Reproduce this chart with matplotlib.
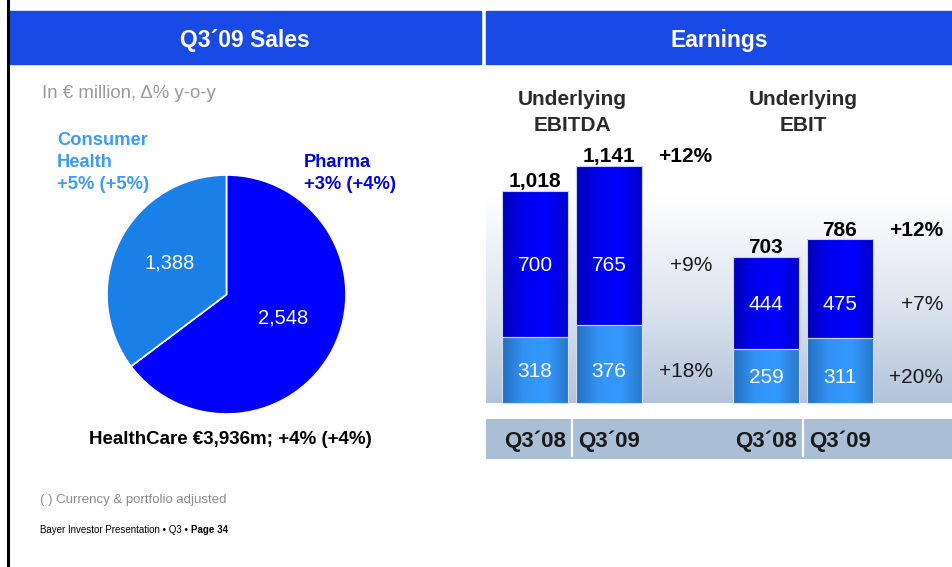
import numpy as np
import matplotlib.pyplot as plt
from matplotlib import transforms
from matplotlib.patches import Rectangle
from matplotlib.lines import Line2D
from matplotlib.colors import LinearSegmentedColormap

plt.rcParams['font.family'] = ['Liberation Sans', 'DejaVu Sans']

# ---- data ----
sales_segments = ['Pharma', 'Consumer\nHealth']
sales_values = [2548, 1388]
sales_labels = ['2,548', '1,388']
sales_growth = ['+3% (+4%)', '+5% (+5%)']
healthcare_note = 'HealthCare \u20ac3,936m; +4% (+4%)'

metrics = ['Underlying\nEBITDA', 'Underlying\nEBIT']
periods = ['Q3\u00b408', 'Q3\u00b409']
consumer_vals = [[318, 376], [259, 311]]
pharma_vals = [[700, 765], [444, 475]]
growth_total = ['+12%', '+12%']
growth_pharma = ['+9%', '+7%']
growth_consumer = ['+18%', '+20%']

W, H = 952, 567
fig = plt.figure(figsize=(W / 100, H / 100), dpi=100)


def box(x0, y0, x1, y1):
    # pixel box, top-left origin -> figure rect
    return [x0 / W, 1 - y1 / H, (x1 - x0) / W, (y1 - y0) / H]


def fy(y):
    return 1 - y / H


# left border and header bars
fig.add_artist(Line2D([7.5 / W] * 2, [0, 1], color='black', lw=2.2, transform=fig.transFigure))
header_blue = '#1a4ae6'
for (x0, x1, title) in [(9, 481, 'Q3\u00b409 Sales'), (486, 952, 'Earnings')]:
    r = box(x0, 11, x1, 64)
    fig.add_artist(Rectangle((r[0], r[1]), r[2], r[3], color=header_blue, transform=fig.transFigure))
    fig.text(r[0] + r[2] / 2, fy(46.5), title, ha='center', va='baseline',
             color='white', fontsize=16.5, fontweight='bold')

fig.text(42 / W, fy(98), 'In \u20ac million, \u0394% y-o-y', fontsize=13.4, color='#999999', va='baseline')

# ---- pie ----
ax_pie = fig.add_axes(box(107, 175, 346, 414))
pie_colors = ['#0000ff', '#1a80e8']
wedges, _ = ax_pie.pie(sales_values, colors=pie_colors, startangle=90, counterclock=False,
                       wedgeprops=dict(edgecolor='white', linewidth=1.2))
ax_pie.set_xlim(-1, 1)
ax_pie.set_ylim(-1, 1)
for w, lab in zip(wedges, sales_labels):
    ang = np.deg2rad((w.theta1 + w.theta2) / 2)
    ax_pie.text(0.53 * np.cos(ang), 0.52 * np.sin(ang) + 0.05, lab, ha='center', va='center_baseline',
                color='white', fontsize=14.5)

# multi-line labels: baseline refers to the last line
fig.text(304 / W, fy(189), sales_segments[0] + '\n' + sales_growth[0], color='#0000e6',
         fontsize=13.2, fontweight='bold', va='baseline', linespacing=1.38)
fig.text(57 / W, fy(189), sales_segments[1] + '\n' + sales_growth[1], color='#3d9bf5',
         fontsize=13.2, fontweight='bold', va='baseline', linespacing=1.38)
fig.text(230 / W, fy(444.3), healthcare_note, ha='center', va='baseline',
         fontsize=13.5, fontweight='bold', color='black')

# ---- earnings bars ----
ax = fig.add_axes(box(486, 80, 952, 459))
ax.set_axis_off()
xlim = (-0.662, 5.635)
ylim = (-270, 1553)
gstart = [0, 3.12]
bw = 0.9

bg = LinearSegmentedColormap.from_list('bg', [(0, '#b2c3da'), (0.45, '#dbe3ee'), (1, '#ffffff')])
ax.imshow(np.linspace(0, 1, 256).reshape(-1, 1), cmap=bg, origin='lower', aspect='auto',
          extent=(xlim[0], xlim[1], 0, 1000), zorder=0)
ax.axhspan(ylim[0], -77, color='#aabed6', zorder=0, lw=0)
ax.vlines([g + 0.5 for g in gstart], -262, -77, colors='white', lw=1.6, zorder=1)

dark = LinearSegmentedColormap.from_list('dk', ['#0000b8', '#0000f0', '#0000ff', '#0000c8'])
light = LinearSegmentedColormap.from_list('lt', ['#2670c0', '#3393f5', '#3399ff', '#2a78c8'])


def shade(patch, cmap):
    x0, y0 = patch.get_x(), patch.get_y()
    im = ax.imshow(np.linspace(0, 1, 64).reshape(1, -1), cmap=cmap, aspect='auto',
                   extent=(x0, x0 + patch.get_width(), y0, y0 + patch.get_height()), zorder=2)
    im.set_clip_path(patch)


blend = transforms.blended_transform_factory(ax.transData, fig.transFigure)
for g in range(2):
    xs = [gstart[g] + i for i in range(2)]
    b1 = ax.bar(xs, consumer_vals[g], width=bw, facecolor='none', edgecolor='#d4def2', lw=0.8, zorder=3)
    b2 = ax.bar(xs, pharma_vals[g], bottom=consumer_vals[g], width=bw, facecolor='none',
                edgecolor='#c8d2f2', lw=0.8, zorder=3)
    for p in b1:
        shade(p, light)
    for p in b2:
        shade(p, dark)

    y_low = consumer_vals[g][0] / 2
    y_up = consumer_vals[g][0] + pharma_vals[g][0] / 2
    for i, x in enumerate(xs):
        ax.text(x, y_low, str(consumer_vals[g][i]), ha='center', va='center_baseline', color='white', fontsize=15, zorder=4)
        ax.text(x, y_up, str(pharma_vals[g][i]), ha='center', va='center_baseline', color='white', fontsize=15, zorder=4)
        tot = consumer_vals[g][i] + pharma_vals[g][i]
        ax.annotate(f'{tot:,}', (x, tot), xytext=(0, 2.7), textcoords='offset points',
                    ha='center', va='baseline', fontsize=15, fontweight='bold', color='black')

    xr = xs[1] + 1.4
    tot1 = consumer_vals[g][1] + pharma_vals[g][1]
    ax.annotate(growth_total[g], (xr, tot1), xytext=(0, 2.7), textcoords='offset points',
                ha='right', va='baseline', fontsize=15, fontweight='bold', color='black')
    ax.text(xr, y_up, growth_pharma[g], ha='right', va='center_baseline', fontsize=15, color='#1a1a1a')
    ax.text(xr, y_low, growth_consumer[g], ha='right', va='center_baseline', fontsize=15, color='#1a1a1a')

    ax.text(gstart[g] + 0.5, fy(131), metrics[g], transform=blend, ha='center', va='baseline',
            fontsize=15, fontweight='bold', color='#2a2a2a', linespacing=1.48)
    for i, x in enumerate(xs):
        ax.text(x, fy(446.5), periods[i], transform=blend, ha='center', va='baseline',
                fontsize=16, fontweight='bold', color='#1a1a1a')

ax.set_xlim(*xlim)
ax.set_ylim(*ylim)

# ---- footnotes ----
fig.text(40 / W, fy(503), '( ) Currency & portfolio adjusted', fontsize=9.5, color='#8c8c8c', va='baseline')
t = fig.text(40 / W, fy(533), 'Bayer Investor Presentation \u2022 Q3 \u2022 ', fontsize=7, color='black', va='baseline')
fig.add_artist(plt.Annotation('Page 34', xy=(1, 0), xycoords=t, va='bottom', ha='left',
                              fontsize=7, fontweight='bold'))

fig.savefig('out.png', dpi=100)
